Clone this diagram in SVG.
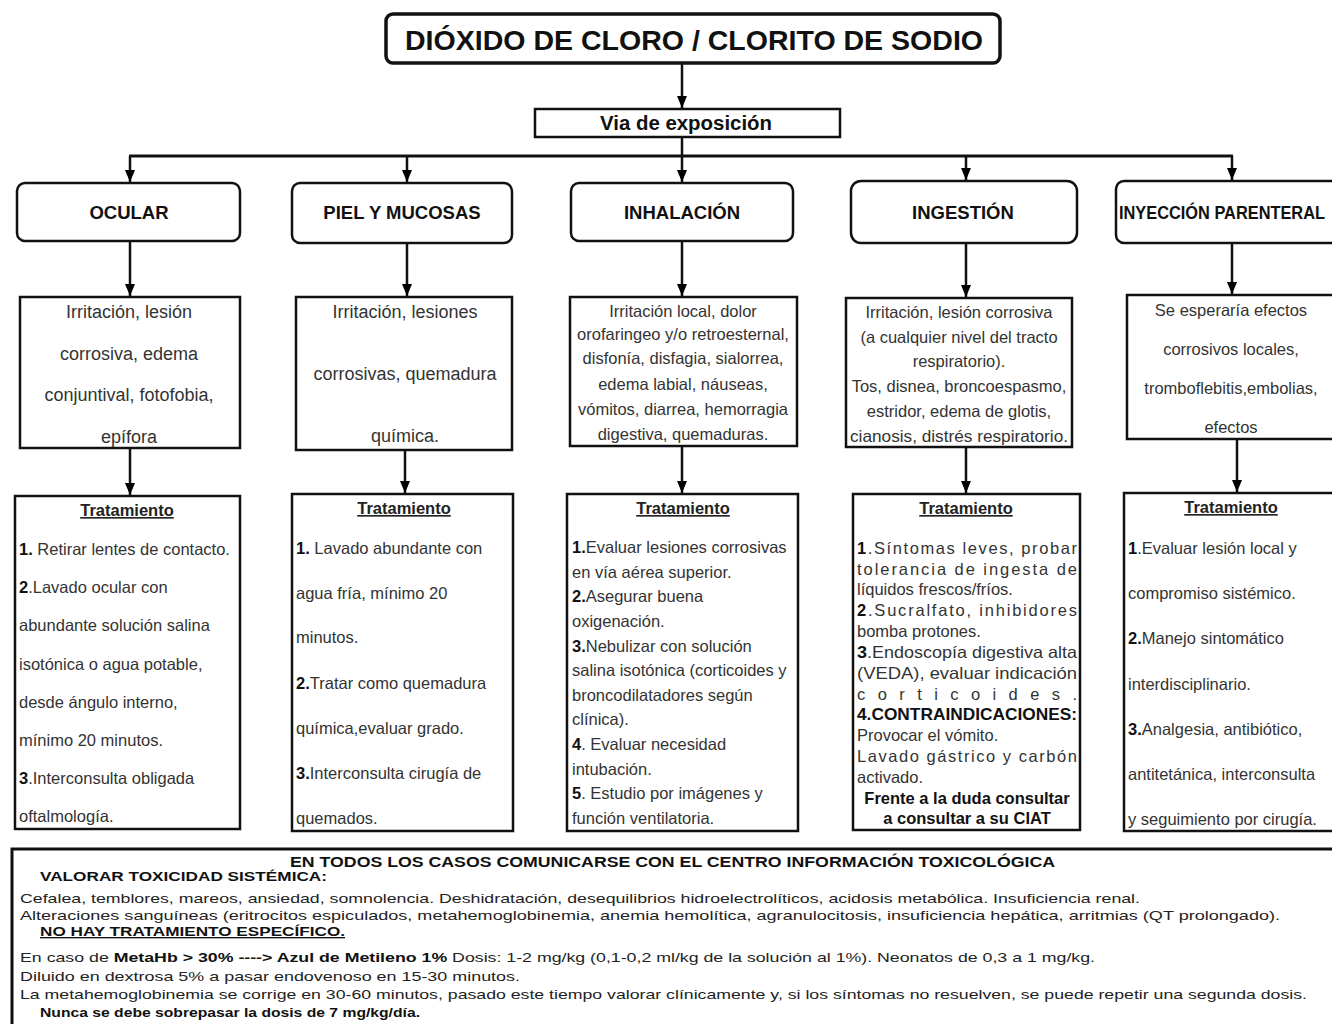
<svg xmlns="http://www.w3.org/2000/svg" width="1332" height="1024" viewBox="0 0 1332 1024">
<defs>
<marker id="ah" viewBox="0 0 12 10" markerWidth="12" markerHeight="10" refX="12" refY="5" orient="auto" markerUnits="userSpaceOnUse">
<path d="M0,0 L12,5 L0,10 z" fill="#000"/>
</marker>
</defs>
<style>
text{font-family:"Liberation Sans",Arial,sans-serif;fill:#111}
.box{fill:#fff;stroke:#111;stroke-width:2.5}
.title{font-size:28.5px;font-weight:bold;text-anchor:middle}
.via{font-size:20px;font-weight:bold;text-anchor:middle}
.cat{font-size:18.5px;font-weight:bold;text-anchor:middle}
.sym{font-size:16.5px;text-anchor:middle;fill:#333}
.syml{font-size:18px;text-anchor:middle;fill:#333}
.tr{font-size:16.5px;fill:#333}
.th{font-size:16.5px;font-weight:bold;text-anchor:middle;text-decoration:underline;fill:#222}
.b{font-weight:bold;fill:#111}
.bt{font-size:13.5px;fill:#222}
.bb{font-size:13.5px;font-weight:bold;fill:#111}
.conn line{stroke:#111;stroke-width:2.5}
</style>
<rect width="1332" height="1024" fill="#fff"/>

<g id="connectors" class="conn">
<line x1="682" y1="63" x2="682" y2="108" marker-end="url(#ah)"/>
<line x1="682" y1="137" x2="682" y2="156"/>
<line x1="129" y1="156" x2="1233" y2="156" style="stroke-width:3"/>
<line x1="130" y1="156" x2="130" y2="182" marker-end="url(#ah)"/>
<line x1="407" y1="156" x2="407" y2="182" marker-end="url(#ah)"/>
<line x1="682" y1="156" x2="682" y2="182" marker-end="url(#ah)"/>
<line x1="966" y1="156" x2="966" y2="180" marker-end="url(#ah)"/>
<line x1="1232" y1="156" x2="1232" y2="180" marker-end="url(#ah)"/>
<line x1="130" y1="241" x2="130" y2="296" marker-end="url(#ah)"/>
<line x1="407" y1="243" x2="407" y2="296" marker-end="url(#ah)"/>
<line x1="682" y1="241" x2="682" y2="296" marker-end="url(#ah)"/>
<line x1="966" y1="243" x2="966" y2="297" marker-end="url(#ah)"/>
<line x1="1232" y1="243" x2="1232" y2="294" marker-end="url(#ah)"/>
<line x1="130" y1="448" x2="130" y2="495" marker-end="url(#ah)"/>
<line x1="405" y1="450" x2="405" y2="493" marker-end="url(#ah)"/>
<line x1="682" y1="446" x2="682" y2="493" marker-end="url(#ah)"/>
<line x1="966" y1="447" x2="966" y2="493" marker-end="url(#ah)"/>
<line x1="1237" y1="439" x2="1237" y2="492" marker-end="url(#ah)"/>
</g>

<g id="title">
<rect x="386" y="14" width="614" height="49" rx="7" class="box" style="stroke-width:3.5"/>
<text x="694" y="50" class="title" textLength="578" lengthAdjust="spacingAndGlyphs">DIÓXIDO DE CLORO / CLORITO DE SODIO</text>
</g>

<g id="via">
<rect x="535" y="109" width="305" height="28" class="box"/>
<text x="686" y="130" class="via" textLength="172" lengthAdjust="spacingAndGlyphs">Via de exposición</text>
</g>

<g id="cat-ocular">
<rect x="17" y="183" width="223" height="58" rx="8" class="box"/>
<text x="129" y="219" class="cat">OCULAR</text>
</g>
<g id="cat-piel">
<rect x="292" y="183" width="220" height="60" rx="8" class="box"/>
<text x="402" y="219" class="cat">PIEL Y MUCOSAS</text>
</g>
<g id="cat-inhalacion">
<rect x="571" y="183" width="222" height="58" rx="8" class="box"/>
<text x="682" y="219" class="cat">INHALACIÓN</text>
</g>
<g id="cat-ingestion">
<rect x="851" y="181" width="226" height="62" rx="10" class="box"/>
<text x="963" y="219" class="cat">INGESTIÓN</text>
</g>
<g id="cat-parenteral">
<rect x="1116" y="181" width="230" height="62" rx="8" class="box"/>
<text x="1222" y="219" class="cat" textLength="206" lengthAdjust="spacingAndGlyphs">INYECCIÓN PARENTERAL</text>
</g>

<g id="sym-ocular">
<rect x="20" y="297" width="220" height="151" class="box"/>
<text class="syml" x="129" y="318">Irritación, lesión</text>
<text class="syml" x="129" y="360">corrosiva, edema</text>
<text class="syml" x="129" y="401">conjuntival, fotofobia,</text>
<text class="syml" x="129" y="443">epífora</text>
</g>
<g id="sym-piel">
<rect x="296" y="297" width="216" height="153" class="box"/>
<text class="syml" x="405" y="318">Irritación, lesiones</text>
<text class="syml" x="405" y="380">corrosivas, quemadura</text>
<text class="syml" x="405" y="442">química.</text>
</g>
<g id="sym-inhalacion">
<rect x="570" y="297" width="227" height="149" class="box"/>
<text class="sym" x="683" y="317">Irritación local, dolor</text>
<text class="sym" x="683" y="340">orofaringeo y/o retroesternal,</text>
<text class="sym" x="683" y="364">disfonía, disfagia, sialorrea,</text>
<text class="sym" x="683" y="390">edema labial, náuseas,</text>
<text class="sym" x="683" y="415">vómitos, diarrea, hemorragia</text>
<text class="sym" x="683" y="440">digestiva, quemaduras.</text>
</g>
<g id="sym-ingestion">
<rect x="846" y="298" width="226" height="149" class="box"/>
<text class="sym" x="959" y="318">Irritación, lesión corrosiva</text>
<text class="sym" x="959" y="343">(a cualquier nivel del tracto</text>
<text class="sym" x="959" y="367">respiratorio).</text>
<text class="sym" x="959" y="392">Tos, disnea, broncoespasmo,</text>
<text class="sym" x="959" y="417">estridor, edema de glotis,</text>
<text class="sym" x="959" y="442" textLength="218" lengthAdjust="spacingAndGlyphs">cianosis, distrés respiratorio.</text>
</g>
<g id="sym-parenteral">
<rect x="1127" y="295" width="215" height="144" class="box"/>
<text class="sym" x="1231" y="316">Se esperaría efectos</text>
<text class="sym" x="1231" y="355">corrosivos locales,</text>
<text class="sym" x="1231" y="394">tromboflebitis,embolias,</text>
<text class="sym" x="1231" y="433">efectos</text>
</g>

<g id="tr-ocular">
<rect x="15" y="496" width="225" height="333" class="box"/>
<text class="th" x="127" y="516">Tratamiento</text>
<text class="tr" x="19" y="555"><tspan class="b">1.</tspan> Retirar lentes de contacto.</text>
<text class="tr" x="19" y="593"><tspan class="b">2</tspan>.Lavado ocular con</text>
<text class="tr" x="19" y="631">abundante solución salina</text>
<text class="tr" x="19" y="670">isotónica o agua potable,</text>
<text class="tr" x="19" y="708">desde ángulo interno,</text>
<text class="tr" x="19" y="746">mínimo 20 minutos.</text>
<text class="tr" x="19" y="784"><tspan class="b">3</tspan>.Interconsulta obligada</text>
<text class="tr" x="19" y="822">oftalmología.</text>
</g>
<g id="tr-piel">
<rect x="292" y="494" width="221" height="337" class="box"/>
<text class="th" x="404" y="514">Tratamiento</text>
<text class="tr" x="296" y="554"><tspan class="b">1.</tspan> Lavado abundante con</text>
<text class="tr" x="296" y="599">agua fría, mínimo 20</text>
<text class="tr" x="296" y="643">minutos.</text>
<text class="tr" x="296" y="689"><tspan class="b">2.</tspan>Tratar como quemadura</text>
<text class="tr" x="296" y="734">química,evaluar grado.</text>
<text class="tr" x="296" y="779"><tspan class="b">3.</tspan>Interconsulta cirugía de</text>
<text class="tr" x="296" y="824">quemados.</text>
</g>
<g id="tr-inhalacion">
<rect x="567" y="494" width="231" height="337" class="box"/>
<text class="th" x="683" y="514">Tratamiento</text>
<text class="tr" x="572" y="553"><tspan class="b">1.</tspan>Evaluar lesiones corrosivas</text>
<text class="tr" x="572" y="578">en vía aérea superior.</text>
<text class="tr" x="572" y="602"><tspan class="b">2.</tspan>Asegurar buena</text>
<text class="tr" x="572" y="627">oxigenación.</text>
<text class="tr" x="572" y="652"><tspan class="b">3.</tspan>Nebulizar con solución</text>
<text class="tr" x="572" y="676">salina isotónica (corticoides y</text>
<text class="tr" x="572" y="701">broncodilatadores según</text>
<text class="tr" x="572" y="725">clínica).</text>
<text class="tr" x="572" y="750"><tspan class="b">4</tspan>. Evaluar necesidad</text>
<text class="tr" x="572" y="775">intubación.</text>
<text class="tr" x="572" y="799"><tspan class="b">5</tspan>. Estudio por imágenes y</text>
<text class="tr" x="572" y="824">función ventilatoria.</text>
</g>
<g id="tr-ingestion">
<rect x="853" y="494" width="227" height="336" class="box"/>
<text class="th" x="966" y="514">Tratamiento</text>
<text class="tr" x="857" y="554" textLength="220" lengthAdjust="spacing"><tspan class="b">1</tspan>.Síntomas leves, probar</text>
<text class="tr" x="857" y="575" textLength="220" lengthAdjust="spacing">tolerancia de ingesta de</text>
<text class="tr" x="857" y="595">líquidos frescos/fríos.</text>
<text class="tr" x="857" y="616" textLength="220" lengthAdjust="spacing"><tspan class="b">2</tspan>.Sucralfato, inhibidores</text>
<text class="tr" x="857" y="637">bomba protones.</text>
<text class="tr" x="857" y="658" textLength="220" lengthAdjust="spacingAndGlyphs"><tspan class="b">3</tspan>.Endoscopía digestiva alta</text>
<text class="tr" x="857" y="679" textLength="220" lengthAdjust="spacingAndGlyphs">(VEDA), evaluar indicación</text>
<text class="tr" x="857" y="700" textLength="220" lengthAdjust="spacing">corticoides.</text>
<text class="tr b" x="857" y="720" textLength="220" lengthAdjust="spacingAndGlyphs">4.CONTRAINDICACIONES:</text>
<text class="tr" x="857" y="741">Provocar el vómito.</text>
<text class="tr" x="857" y="762" textLength="220" lengthAdjust="spacing">Lavado gástrico y carbón</text>
<text class="tr" x="857" y="783">activado.</text>
<text class="tr b" x="967" y="804" text-anchor="middle">Frente a la duda consultar</text>
<text class="tr b" x="967" y="824" text-anchor="middle">a consultar a su CIAT</text>
</g>
<g id="tr-parenteral">
<rect x="1124" y="493" width="220" height="338" class="box"/>
<text class="th" x="1231" y="513">Tratamiento</text>
<text class="tr" x="1128" y="554"><tspan class="b">1</tspan>.Evaluar lesión local y</text>
<text class="tr" x="1128" y="599">compromiso sistémico.</text>
<text class="tr" x="1128" y="644"><tspan class="b">2.</tspan>Manejo sintomático</text>
<text class="tr" x="1128" y="690">interdisciplinario.</text>
<text class="tr" x="1128" y="735"><tspan class="b">3.</tspan>Analgesia, antibiótico,</text>
<text class="tr" x="1128" y="780">antitetánica, interconsulta</text>
<text class="tr" x="1128" y="825">y seguimiento por cirugía.</text>
</g>

<g id="general">
<rect x="12" y="849" width="1336" height="190" class="box" style="stroke-width:3"/>
<text class="bb" x="290" y="867" textLength="765" lengthAdjust="spacingAndGlyphs" style="font-size:14px">EN TODOS LOS CASOS COMUNICARSE CON EL CENTRO INFORMACIÓN TOXICOLÓGICA</text>
<text class="bb" x="40" y="881" textLength="287" lengthAdjust="spacingAndGlyphs">VALORAR TOXICIDAD SISTÉMICA:</text>
<text class="bt" x="20" y="903" textLength="1120" lengthAdjust="spacingAndGlyphs">Cefalea, temblores, mareos, ansiedad, somnolencia. Deshidratación, desequilibrios hidroelectrolíticos, acidosis metabólica. Insuficiencia renal.</text>
<text class="bt" x="20" y="920" textLength="1260" lengthAdjust="spacingAndGlyphs">Alteraciones sanguíneas (eritrocitos espiculados, metahemoglobinemia, anemia hemolítica, agranulocitosis, insuficiencia hepática, arritmias (QT prolongado).</text>
<text class="bb" x="40" y="936" text-decoration="underline" textLength="305" lengthAdjust="spacingAndGlyphs">NO HAY TRATAMIENTO ESPECÍFICO.</text>
<text class="bt" x="20" y="962" textLength="1075" lengthAdjust="spacingAndGlyphs">En caso de <tspan class="b">MetaHb &gt; 30% ----&gt; Azul de Metileno 1%</tspan> Dosis: 1-2 mg/kg (0,1-0,2 ml/kg de la solución al 1%). Neonatos de 0,3 a 1 mg/kg.</text>
<text class="bt" x="20" y="981" textLength="500" lengthAdjust="spacingAndGlyphs">Diluido en dextrosa 5% a pasar endovenoso en 15-30 minutos.</text>
<text class="bt" x="20" y="999" textLength="1287" lengthAdjust="spacingAndGlyphs">La metahemoglobinemia se corrige en 30-60 minutos, pasado este tiempo valorar clínicamente y, si los síntomas no resuelven, se puede repetir una segunda dosis.</text>
<text class="bb" x="40" y="1017" textLength="380" lengthAdjust="spacingAndGlyphs">Nunca se debe sobrepasar la dosis de 7 mg/kg/día.</text>
</g>
</svg>
